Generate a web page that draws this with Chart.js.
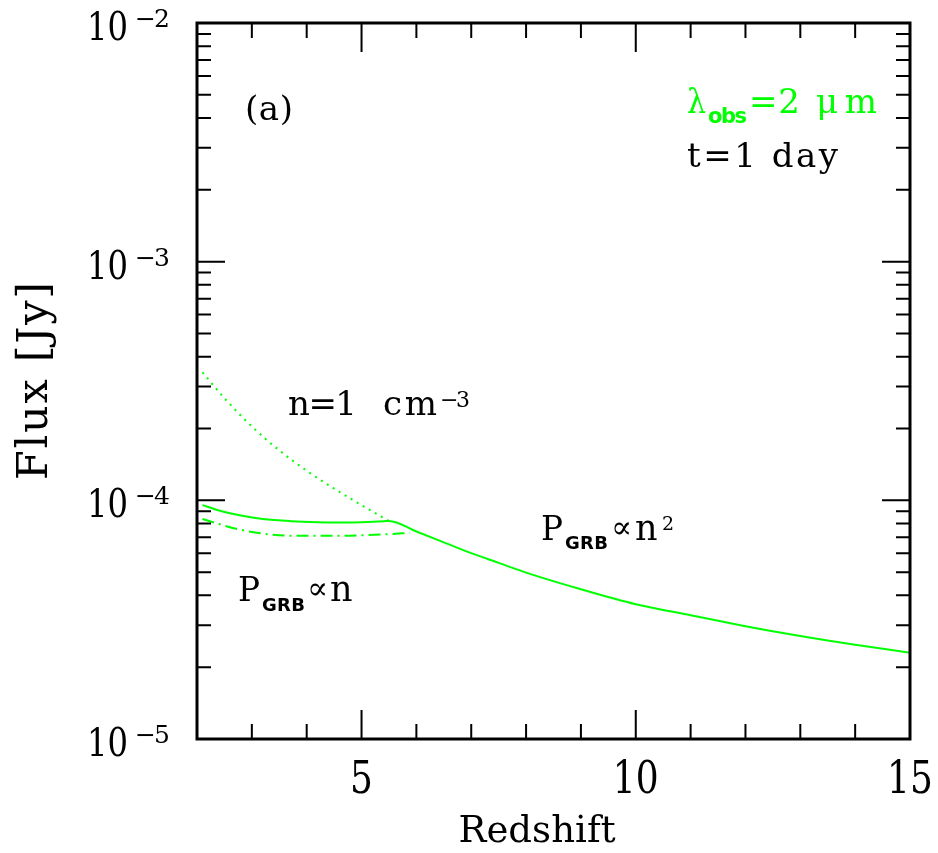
<!DOCTYPE html>
<html><head><meta charset="utf-8">
<script src="https://cdn.jsdelivr.net/npm/chart.js@4/dist/chart.umd.min.js"></script>
<style>html,body{margin:0;padding:0;background:#fff}canvas{display:block}</style>
</head><body>
<canvas id="c" width="938" height="853"></canvas>
<script>
// ---- data ----
// solid: P_GRB ∝ n branch at low z, then the common curve to z = 15
const solidZ = [2.1, 2.45, 2.8, 3.2, 3.71, 4.2, 4.62, 5.0, 5.41, 5.5, 6.0, 6.5, 7.0, 7.5, 8.0, 9.0, 10.0, 11.0, 12.0, 13.0, 14.0, 15.0];
const solidF = [9.55e-5, 9.0e-5, 8.63e-5, 8.35e-5, 8.18e-5, 8.1e-5, 8.08e-5, 8.1e-5, 8.18e-5, 8.2e-5, 7.40e-5, 6.67e-5, 6.01e-5, 5.47e-5, 4.98e-5, 4.24e-5, 3.67e-5, 3.30e-5, 2.97e-5, 2.70e-5, 2.48e-5, 2.30e-5];
// dotted: n = 1 cm^-3 curve at low z
const dottedZ = [2.1, 2.5, 3.0, 3.5, 4.0, 4.5, 5.0, 5.5];
const dottedF = [3.44e-4, 2.68e-4, 2.04e-4, 1.62e-4, 1.33e-4, 1.12e-4, 9.55e-5, 8.2e-5];
// dash-dot: P_GRB ∝ n^2 branch at low z
const dashDotZ = [2.1, 2.8, 3.71, 4.62, 5.41, 5.88];
const dashDotF = [8.35e-5, 7.52e-5, 7.11e-5, 7.11e-5, 7.20e-5, 7.31e-5];

// axes / ticks
const xMin = 2, xMax = 15;
const yMin = 1e-5, yMax = 1e-2;
const xMajorTicks = [5, 10, 15];
const xMinorTicks = [3, 4, 6, 7, 8, 9, 11, 12, 13, 14];
const xTickLabels = ['5', '10', '15'];
const yDecades = [-5, -4, -3, -2];
const yMinorMult = [2, 3, 4, 5, 6, 7, 8, 9];
const yTickExpLabels = ['−5', '−4', '−3', '−2'];

const GREEN = '#00ff00';
const SERIF = '"DejaVu Serif", serif';
const SANS = '"DejaVu Sans", sans-serif';

function pts(zs, fs) { return zs.map((z, i) => ({ x: z, y: fs[i] })); }

// draw text; opt.width fits the width with letter spacing (or scaling if opt.scaleFit),
// opt.sx / opt.sy stretch the glyphs
function txt(ctx, s, x, base, size, color, opt) {
  opt = opt || {};
  ctx.save();
  ctx.font = (opt.weight ? opt.weight + ' ' : '') + size + 'px ' + (opt.font || SERIF);
  ctx.fillStyle = color || '#000';
  ctx.textBaseline = 'alphabetic';
  ctx.textAlign = 'left';
  try { ctx.letterSpacing = '0px'; } catch (e) {}
  let sx = opt.sx || 1, sy = opt.sy || 1;
  let w = ctx.measureText(s).width;
  const n = [...s].length;
  if (opt.width) {
    if (opt.scaleFit || n < 2) { sx = opt.width / w; }
    else {
      const ls = (opt.width / sx - w) / (n - 1);
      try { ctx.letterSpacing = ls + 'px'; } catch (e) {}
    }
    w = opt.width;
  } else w = w * sx;
  let lx = x;
  if (opt.align === 'center') lx = x - w / 2;
  else if (opt.align === 'right') lx = x - w;
  ctx.translate(lx, base);
  ctx.scale(sx, sy);
  ctx.fillText(s, 0, 0);
  ctx.restore();
}

const decor = {
  id: 'decor',
  beforeDraw(chart) {
    const ctx = chart.ctx;
    ctx.save(); ctx.fillStyle = '#fff'; ctx.fillRect(0, 0, chart.width, chart.height); ctx.restore();
  },
  afterDraw(chart) {
    const { ctx, chartArea: a, scales: { x, y } } = chart;
    ctx.save();
    // ticks (inward, all four sides)
    ctx.strokeStyle = '#000'; ctx.lineWidth = 2; ctx.lineCap = 'butt';
    ctx.beginPath();
    const xt = (v, L) => { const p = x.getPixelForValue(v); ctx.moveTo(p, a.bottom); ctx.lineTo(p, a.bottom - L); ctx.moveTo(p, a.top); ctx.lineTo(p, a.top + L); };
    xMajorTicks.forEach(v => xt(v, 29));
    xMinorTicks.forEach(v => xt(v, 15));
    const yt = (v, L) => { const p = y.getPixelForValue(v); ctx.moveTo(a.left, p); ctx.lineTo(a.left + L, p); ctx.moveTo(a.right, p); ctx.lineTo(a.right - L, p); };
    yDecades.forEach((e, i) => {
      yt(Math.pow(10, e), 28);
      if (i < yDecades.length - 1) yMinorMult.forEach(m => yt(m * Math.pow(10, e), 14));
    });
    ctx.stroke();
    // frame
    ctx.lineWidth = 3;
    ctx.strokeRect(a.left, a.top, a.right - a.left, a.bottom - a.top);

    // x tick labels
    xMajorTicks.forEach((v, i) => txt(ctx, xTickLabels[i], x.getPixelForValue(v), 793, 36, '#000', { align: 'center', sy: 1.22 }));
    // y tick labels 10^e
    yDecades.forEach((e, i) => {
      const p = y.getPixelForValue(Math.pow(10, e));
      txt(ctx, '10', 128, p + 17, 34, '#000', { align: 'right', width: 41, scaleFit: true, sy: 1.13 });
      txt(ctx, yTickExpLabels[i], 135, p + 4, 25, '#000', { width: 35 });
    });
    // axis titles
    txt(ctx, 'Redshift', 537, 842, 37, '#000', { align: 'center', width: 157 });
    ctx.save();
    ctx.translate(47, 480); ctx.rotate(-Math.PI / 2);
    txt(ctx, 'Flux [Jy]', 0, 0, 43, '#000', { width: 198 });
    ctx.restore();

    // annotations
    txt(ctx, '(a)', 245, 120, 34, '#000', { width: 48 });
    // lambda_obs = 2 micron
    txt(ctx, 'λ', 687, 113, 34, GREEN, { width: 19 });
    txt(ctx, 'obs', 708, 123, 21, GREEN, { font: SANS, weight: 'bold', width: 39 });
    txt(ctx, '=2', 749, 113, 34, GREEN, { width: 51 });
    txt(ctx, 'μm', 816, 113, 34, GREEN, { width: 61 });
    // t = 1 day
    txt(ctx, 't=1 day', 687, 167, 34, '#000', { width: 151 });
    // n = 1 cm^-3
    txt(ctx, 'n=1', 288, 415, 34, '#000', { width: 69 });
    txt(ctx, 'cm', 383, 415, 34, '#000', { width: 54 });
    txt(ctx, '−3', 440, 407, 22, '#000', { width: 30 });
    // P_GRB ∝ n^2
    txt(ctx, 'P', 541, 540, 34, '#000', { width: 22 });
    txt(ctx, 'GRB', 565, 549, 18, '#000', { font: SANS, weight: 'bold', width: 43 });
    txt(ctx, '∝', 611, 538, 32, '#000', { width: 21 });
    txt(ctx, 'n', 635, 540, 35, '#000');
    txt(ctx, '2', 662, 530, 19, '#000');
    // P_GRB ∝ n
    txt(ctx, 'P', 238, 601, 34, '#000', { width: 22 });
    txt(ctx, 'GRB', 262, 611, 18, '#000', { font: SANS, weight: 'bold', width: 43 });
    txt(ctx, '∝', 307, 599, 32, '#000', { width: 21 });
    txt(ctx, 'n', 330, 601, 35, '#000');
    ctx.restore();
  }
};

new Chart(document.getElementById('c'), {
  type: 'line',
  data: {
    datasets: [
      { label: 'solid', data: pts(solidZ, solidF), borderColor: GREEN, borderWidth: 2, pointRadius: 0, fill: false, cubicInterpolationMode: 'monotone' },
      { label: 'dotted', data: pts(dottedZ, dottedF), borderColor: GREEN, borderWidth: 2, borderDash: [2, 5], pointRadius: 0, fill: false, cubicInterpolationMode: 'monotone' },
      { label: 'dashdot', data: pts(dashDotZ, dashDotF), borderColor: GREEN, borderWidth: 2, borderDash: [12, 5, 2, 5], pointRadius: 0, fill: false, cubicInterpolationMode: 'monotone' }
    ]
  },
  options: {
    responsive: false,
    devicePixelRatio: 1,
    animation: false,
    layout: { padding: { left: 197, top: 23, right: 28, bottom: 114 } },
    plugins: { legend: { display: false }, tooltip: { enabled: false } },
    scales: {
      x: { type: 'linear', min: xMin, max: xMax, display: false },
      y: { type: 'logarithmic', min: yMin, max: yMax, display: false }
    }
  },
  plugins: [decor]
});
</script>
</body></html>
